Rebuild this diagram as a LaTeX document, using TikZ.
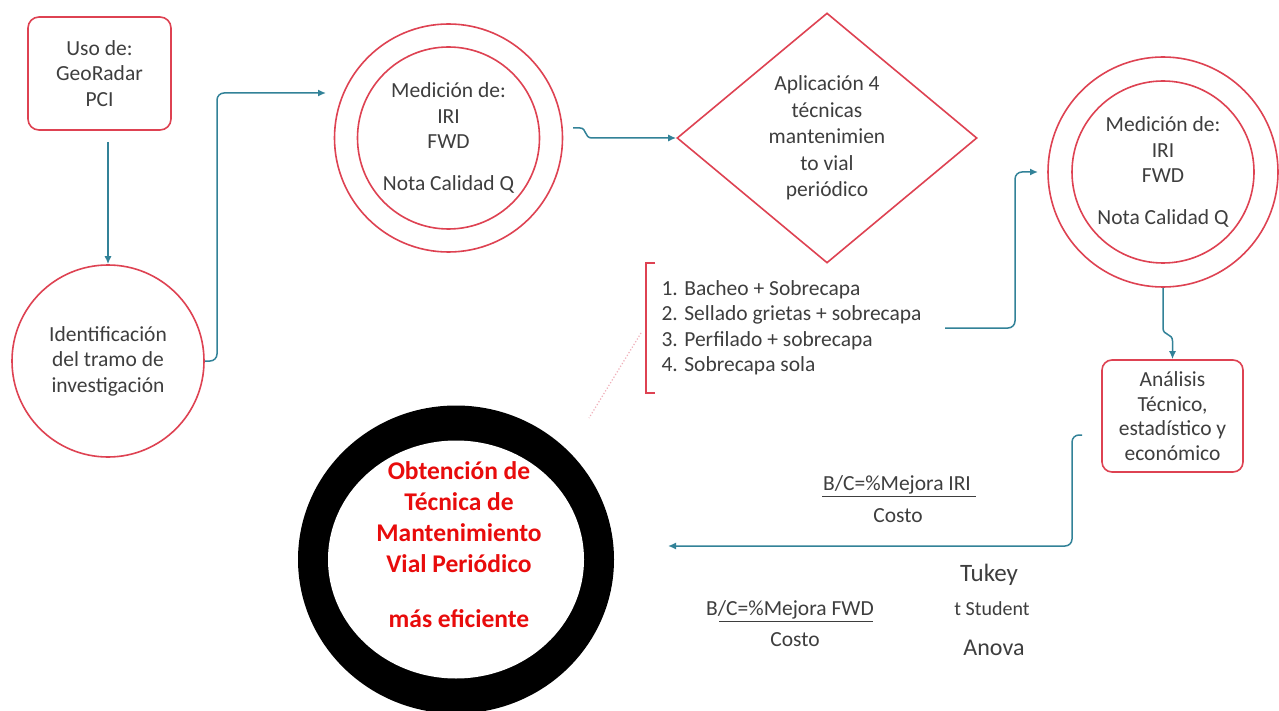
\documentclass[tikz,border=0pt]{standalone}
\usepackage{fontspec}
\setmainfont{Carlito}
\usetikzlibrary{shapes.geometric,arrows.meta}
\definecolor{redline}{RGB}{222,66,82}
\definecolor{tealc}{RGB}{50,130,152}
\definecolor{txtgray}{RGB}{62,62,62}
\definecolor{bigred}{RGB}{232,12,12}
\definecolor{dotpink}{RGB}{240,175,185}
\begin{document}
\begin{tikzpicture}[x=1pt,y=-1pt,
  txt/.style={text=txtgray, font=\fontsize{21.5}{25.5}\selectfont, align=center},
  redbox/.style={txt, draw=redline, line width=1.6pt, rounded corners=11pt},
  redcirc/.style={txt, circle, draw=redline, line width=1.6pt, inner sep=0pt},
  conn/.style={draw=tealc, line width=1.5pt, rounded corners=7pt, -{Latex[length=8pt,width=7pt]}},
  uline/.style={draw=txtgray, line width=1.3pt}]
\useasboundingbox[fill=white] (0,0) rectangle (1279,711);

% nodes
\node[redbox, minimum width=143pt, minimum height=113pt] (uso) at (99.5,73.5) {Uso de:\\GeoRadar\\PCI};
\node[redcirc, minimum size=192pt] (ident) at (108,361) {Identificación\\del tramo de\\investigación};

\node[redcirc, minimum size=228pt] (m1) at (448.5,138) {Medición de:\\IRI\\FWD\\[16pt]Nota Calidad Q};
\node[redcirc, minimum size=182pt] (m1i) at (m1.center) {};

\node[txt, diamond, draw=redline, line width=1.6pt, aspect=1.2, minimum width=300pt, minimum height=250pt, inner sep=0pt,
      font=\fontsize{21.5}{26.5}\selectfont] (diam) at (827,138) {Aplicación 4\\técnicas\\mantenimien\\to vial\\periódico};

\node[txt, align=left, anchor=west] (lista) at (658,328) {1. Bacheo + Sobrecapa\\2. Sellado grietas + sobrecapa\\3. Perfilado + sobrecapa\\4. Sobrecapa sola};
\draw[redline, line width=1.6pt] (655,263) -- (646,263) -- (646,393) -- (655,393);

\node[redcirc, minimum size=230pt] (m2) at (1163,172) {Medición de:\\IRI\\FWD\\[16pt]Nota Calidad Q};
\node[redcirc, minimum size=182pt] (m2i) at (m2.center) {};

\node[redbox, rounded corners=10pt, minimum width=141pt, minimum height=112pt, font=\fontsize{21.5}{24.5}\selectfont] (anal) at (1172.5,416) {Análisis\\Técnico,\\estadístico y\\económico};

\node[ellipse, fill=black, minimum width=316pt, minimum height=308pt, inner sep=0pt] (big) at (456,559.5) {};
\node[ellipse, fill=white, minimum width=256pt, minimum height=238pt, inner sep=0pt] (bigin) at (456,559.5) {};
\node[font=\bfseries\fontsize{25.5}{31}\selectfont, text=bigred, align=center] (bigtxt) at (459,545) {Obtención de\\Técnica de\\Mantenimiento\\Vial Periódico\\[24pt]más eficiente};

% formulas and tests
\node[txt, anchor=base] (bc1) at (897,490) {B/C=\%Mejora IRI};
\node[txt, anchor=base] (cost1) at (898,522) {Costo};
\coordinate (u1a) at (822,496.5);
\coordinate (u1b) at (976,496.5);
\draw[uline] (u1a) -- (u1b);

\node[txt, anchor=base] (bc2) at (790,615) {B/C=\%Mejora FWD};
\node[txt, anchor=base] (cost2) at (795,646) {Costo};
\coordinate (u2a) at (719,621.5);
\coordinate (u2b) at (873,621.5);
\draw[uline] (u2a) -- (u2b);

\node[txt, anchor=base, font=\fontsize{25}{30}\selectfont] (tukey) at (989,581) {Tukey};
\node[txt, anchor=base, font=\fontsize{20}{24}\selectfont] (tstud) at (992,615) {t Student};
\node[txt, anchor=base, font=\fontsize{24}{28}\selectfont] (anova) at (994,655) {Anova};

% connectors
\coordinate (c1s) at (108,142);
\draw[conn] (c1s) -- (ident.north);

\coordinate (m1in) at (326,93);
\draw[conn] (ident.east) -- (217,361) -- (217,93) -- (m1in);

\coordinate (m1out) at (573,128);
\draw[conn, sharp corners] (m1out) -- (580,128) .. controls (587,128) and (584,138) .. (592,138) -- (diam.west);

\coordinate (listout) at (945,328);
\coordinate (m2in) at (1038,172);
\draw[conn] (listout) -- (1015,328) -- (1015,172) -- (m2in);

\draw[conn, sharp corners] (m2.south) -- (1163,328) .. controls (1163,336) and (1172.5,333) .. (1172.5,341) -- (anal.north);

\coordinate (analout) at (1082,435);
\coordinate (bigarr) at (668,546);
\draw[conn] (analout) -- (1072,435) -- (1072,546) -- (bigarr);

\coordinate (dA) at (641,333);
\coordinate (dB) at (589,418);
\draw[dotpink, dotted, line width=1.2pt] (dA) -- (dB);
\end{tikzpicture}
\end{document}
